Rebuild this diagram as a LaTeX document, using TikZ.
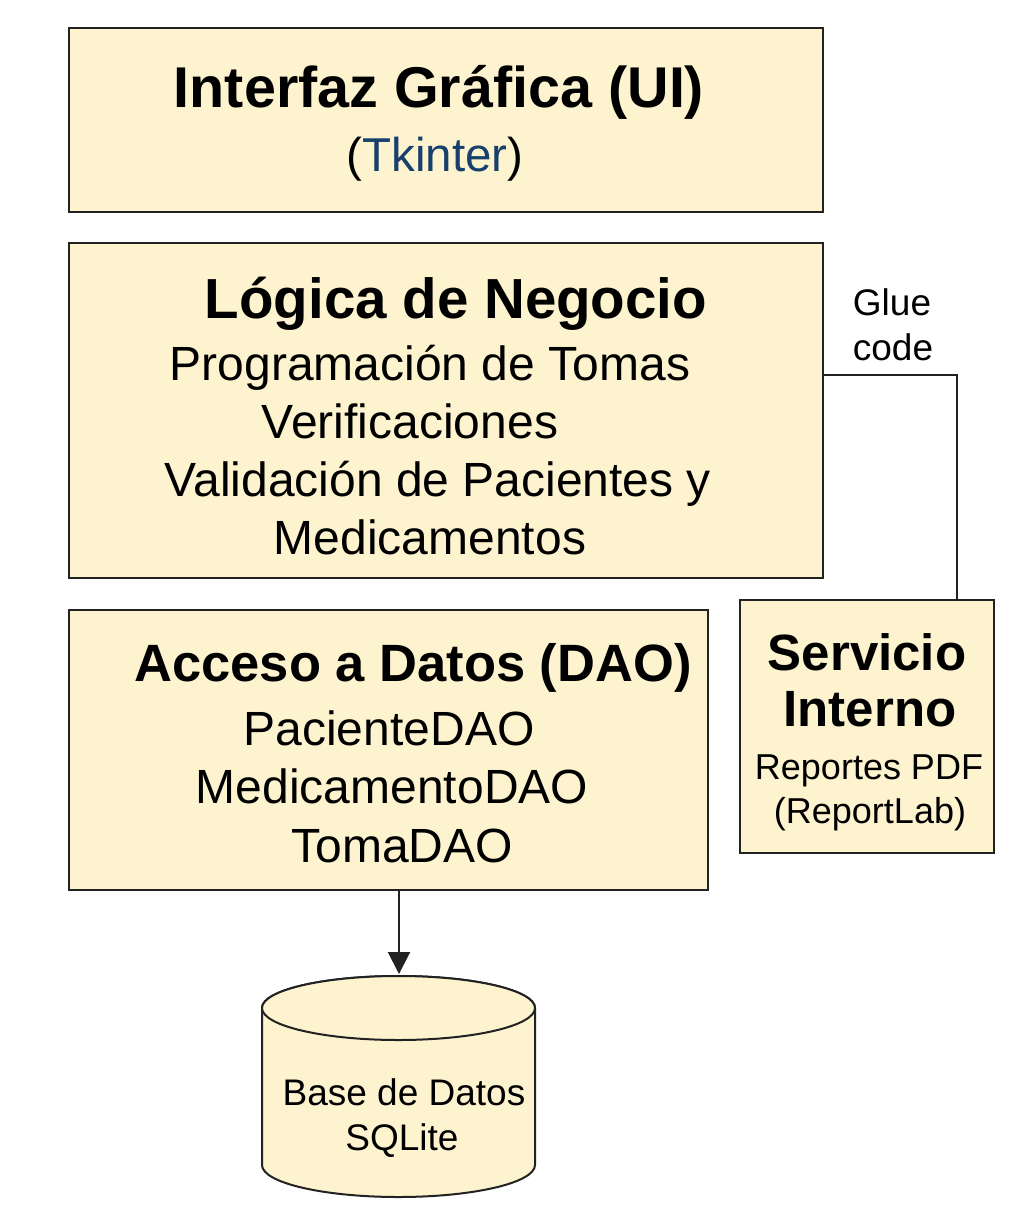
\documentclass[tikz,border=0pt]{standalone}
\usepackage{fontspec}
\setmainfont{Liberation Sans}
\usetikzlibrary{arrows.meta}
\definecolor{boxfill}{HTML}{FDF3CF}
\definecolor{boxline}{HTML}{222222}
\definecolor{tkblue}{HTML}{17406D}
\tikzset{
  box/.style={draw=boxline, fill=boxfill, line width=2pt, inner sep=0pt, outer sep=0pt},
  txt/.style={inner sep=0pt, outer sep=0pt, anchor=base, text=black},
  conn/.style={draw=boxline, line width=2pt},
}
\newcommand{\fs}[1]{\fontsize{#1}{#1}\selectfont}
\begin{document}
\begin{tikzpicture}[x=1pt,y=-1pt]
\useasboundingbox[fill=white] (0,0) rectangle (1024,1230);
% boxes
\node[box, minimum width=754pt, minimum height=184pt] (ui) at (446,120) {};
\node[box, minimum width=754pt, minimum height=335pt] (logic) at (446,410.5) {};
\node[box, minimum width=639pt, minimum height=280pt] (dao) at (388.5,750) {};
\node[box, minimum width=254pt, minimum height=253pt] (svc) at (867,726.5) {};
% UI texts
\node[txt] (uit) at (439,108) {\fs{57.5}\bfseries Interfaz Gráfica (UI)};
\node[txt] (uis) at (435,172) {\fs{47.5}(\textcolor{tkblue}{Tkinter})};
% logic texts
\node[txt] (lt) at (456,318) {\fs{56.5}\bfseries Lógica de Negocio};
\node[txt] (l1) at (430,380) {\fs{48}Programación de Tomas};
\node[txt] (l2) at (410,438) {\fs{48}Verificaciones};
\node[txt] (l3) at (438,496) {\fs{48}Validación de Pacientes y};
\node[txt] (l4) at (430,554) {\fs{48}Medicamentos};
% dao texts
\node[txt] (dt) at (413,681) {\fs{52.5}\bfseries Acceso a Datos (DAO)};
\node[txt] (d1) at (389,745) {\fs{48}PacienteDAO};
\node[txt] (d2) at (392,803) {\fs{48}MedicamentoDAO};
\node[txt] (d3) at (402,862) {\fs{48}TomaDAO};
% service texts
\node[txt] (st1) at (867,670) {\fs{51}\bfseries Servicio};
\node[txt] (st2) at (870,726) {\fs{51}\bfseries Interno};
\node[txt] (s1) at (869,779) {\fs{36}Reportes PDF};
\node[txt] (s2) at (870,823) {\fs{36}(ReportLab)};
% glue code
\node[txt] (g1) at (892,315) {\fs{37}Glue};
\node[txt] (g2) at (893,360) {\fs{37}code};
\draw[conn] ([yshift=35.5pt]logic.east) -| ([xshift=90pt]svc.north);
% database cylinder
\draw[box] (262,1008) -- (262,1165) arc[start angle=180, end angle=0, x radius=136.5, y radius=32] -- (535,1008) arc[start angle=0, end angle=-180, x radius=136.5, y radius=32] -- cycle;
\draw[box] (398.5,1008) ellipse[x radius=136.5, y radius=32];
\coordinate (dbtop) at (399,974);
\node[txt] (b1) at (404,1105) {\fs{37}Base de Datos};
\node[txt] (b2) at (402,1150) {\fs{37}SQLite};
% arrow
\draw[conn, -{Triangle[width=22pt,length=22pt]}] ([xshift=10.5pt]dao.south) -- (dbtop);
\end{tikzpicture}
\end{document}
